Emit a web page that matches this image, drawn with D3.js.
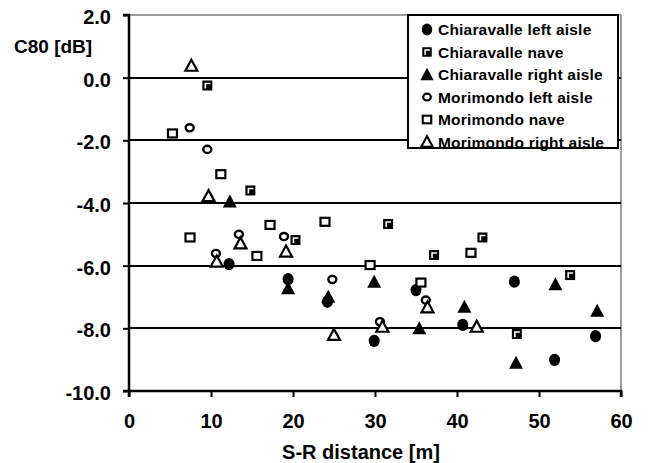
<!DOCTYPE html>
<html>
<head>
<meta charset="utf-8">
<script src="https://cdn.jsdelivr.net/npm/d3@7"></script>
<style>
  html, body { margin: 0; padding: 0; background: #fff; }
  svg { display: block; }
  text { font-family: "Liberation Sans", Arial, sans-serif; font-weight: bold; fill: #000; }
</style>
</head>
<body>
<svg id="chart" width="648" height="463"></svg>
<script>
// ---- data ----
const seriesNames = [
  "Chiaravalle left aisle",
  "Chiaravalle nave",
  "Chiaravalle right aisle",
  "Morimondo left aisle",
  "Morimondo nave",
  "Morimondo right aisle"
];
const chiaravalleLeftX  = [12.2, 19.4, 24.2, 29.9, 35.0, 40.7, 47.0, 51.9, 56.9];
const chiaravalleLeftY  = [-5.95, -6.43, -7.15, -8.4, -6.78, -7.89, -6.51, -9.01, -8.25];
const chiaravalleNaveX  = [9.55, 14.8, 20.3, 31.6, 37.2, 43.1, 47.3, 53.8];
const chiaravalleNaveY  = [-0.25, -3.6, -5.18, -4.67, -5.66, -5.1, -8.18, -6.3];
const chiaravalleRightX = [12.3, 19.4, 24.3, 29.9, 35.4, 40.9, 47.2, 52.0, 57.1];
const chiaravalleRightY = [-3.95, -6.72, -6.99, -6.51, -8.0, -7.31, -9.1, -6.59, -7.44];
const morimondoLeftX    = [7.4, 9.55, 10.6, 13.4, 18.9, 24.8, 30.6, 36.2];
const morimondoLeftY    = [-1.6, -2.29, -5.61, -5.0, -5.07, -6.44, -7.79, -7.1];
const morimondoNaveX    = [5.3, 7.44, 11.2, 15.6, 17.2, 23.9, 29.4, 35.6, 41.7];
const morimondoNaveY    = [-1.78, -5.1, -3.08, -5.69, -4.7, -4.6, -5.98, -6.54, -5.59];
const morimondoRightX   = [7.6, 9.7, 10.7, 13.6, 19.15, 25.0, 30.9, 36.4, 42.4];
const morimondoRightY   = [0.38, -3.78, -5.87, -5.29, -5.55, -8.21, -7.95, -7.33, -7.95];

const xTicks = [0, 10, 20, 30, 40, 50, 60];
const yTicks = [2, 0, -2, -4, -6, -8, -10];
const gridValues = [0, -2, -4, -6, -8];
const xTitle = "S-R distance [m]";
const yTitle = "C80 [dB]";

const series = [
  {name: seriesNames[0], xs: chiaravalleLeftX,  ys: chiaravalleLeftY,  shape: "fcircle"},
  {name: seriesNames[1], xs: chiaravalleNaveX,  ys: chiaravalleNaveY,  shape: "fsquare"},
  {name: seriesNames[2], xs: chiaravalleRightX, ys: chiaravalleRightY, shape: "ftri"},
  {name: seriesNames[3], xs: morimondoLeftX,    ys: morimondoLeftY,    shape: "ocircle"},
  {name: seriesNames[4], xs: morimondoNaveX,    ys: morimondoNaveY,    shape: "osquare"},
  {name: seriesNames[5], xs: morimondoRightX,   ys: morimondoRightY,   shape: "otri"}
];

// ---- layout ----
const svg = d3.select("#chart");
const L = 129, R = 621, T = 15, B = 391;
const x = d3.scaleLinear().domain([0, 60]).range([L, R]);
const y = d3.scaleLinear().domain([-10, 2]).range([B, T]);

// frame (top and right, gray)
svg.append("line").attr("x1", L).attr("x2", R).attr("y1", T).attr("y2", T)
  .attr("stroke", "#9a9a9a").attr("stroke-width", 2);
svg.append("line").attr("x1", R).attr("x2", R).attr("y1", T).attr("y2", B)
  .attr("stroke", "#9a9a9a").attr("stroke-width", 2);

// gridlines
svg.append("g").selectAll("line").data(gridValues).join("line")
  .attr("x1", L).attr("x2", R)
  .attr("y1", d => Math.round(y(d))).attr("y2", d => Math.round(y(d)))
  .attr("stroke", "#000").attr("stroke-width", 2);

// axes
const yAxis = d3.axisLeft(y).tickValues(yTicks).tickSize(6).tickPadding(12)
  .tickFormat(d => d.toFixed(1));
const gy = svg.append("g").attr("transform", `translate(${L},0)`).call(yAxis);
const xAxis = d3.axisBottom(x).tickValues(xTicks).tickSize(6).tickPadding(17)
  .tickFormat(d => String(d));
const gx = svg.append("g").attr("transform", `translate(0,${B})`).call(xAxis);

[gx, gy].forEach(g => {
  g.select(".domain").attr("stroke", "#000").attr("stroke-width", 2.5);
  g.selectAll(".tick line").attr("stroke", "#000").attr("stroke-width", 2);
  g.selectAll(".tick text").style("font-family", '"Liberation Sans", Arial, sans-serif')
    .style("font-weight", "bold").style("font-size", "20px").attr("fill", "#000");
});
gy.select(".domain").attr("d", `M-6,${B}H0V${T}H-6`);
gx.select(".domain").attr("d", `M${L},6V0H${R}V6`);
gy.selectAll(".tick text").attr("dy", "0.42em");

// titles
svg.append("text").attr("x", 361).attr("y", 459).attr("text-anchor", "middle")
  .style("font-size", "20px").text(xTitle);
svg.append("text").attr("x", 14).attr("y", 53)
  .style("font-size", "19px").text(yTitle);

// ---- markers ----
function drawMarker(g, shape, s) {
  s = s || 1;
  if (shape === "fcircle") {
    g.append("ellipse").attr("rx", 5.5 * s).attr("ry", 6.2 * s).attr("fill", "#000");
  } else if (shape === "fsquare") {
    g.append("rect").attr("x", -5 * s).attr("y", -5 * s).attr("width", 10 * s).attr("height", 10 * s)
      .attr("fill", "#000");
    g.append("path").attr("d", `M${-2 * s},${3 * s}V${-2 * s}H${3 * s}`)
      .attr("fill", "none").attr("stroke", "#fff").attr("stroke-width", 1.6 * s);
  } else if (shape === "ftri") {
    g.append("path").attr("d", `M0,${-7 * s}L${7 * s},${6 * s}L${-7 * s},${6 * s}Z`).attr("fill", "#000");
  } else if (shape === "ocircle") {
    g.append("ellipse").attr("rx", 4 * s).attr("ry", 3.6 * s)
      .attr("fill", "#fff").attr("stroke", "#000").attr("stroke-width", 2.4 * s);
  } else if (shape === "osquare") {
    g.append("rect").attr("x", -4.5 * s).attr("y", -4 * s).attr("width", 9 * s).attr("height", 8 * s)
      .attr("fill", "#fff").attr("stroke", "#000").attr("stroke-width", 2.2 * s);
  } else if (shape === "otri") {
    g.append("path").attr("d", `M0,${-6 * s}L${6 * s},${5 * s}L${-6 * s},${5 * s}Z`)
      .attr("fill", "#fff").attr("stroke", "#000").attr("stroke-width", 2.2 * s).attr("stroke-linejoin", "miter");
  }
}

const plot = svg.append("g");
series.forEach(sr => {
  const pts = sr.xs.map((v, i) => [v, sr.ys[i]]);
  plot.append("g").selectAll("g").data(pts).join("g")
    .attr("transform", d => `translate(${x(d[0])},${y(d[1])})`)
    .each(function () { drawMarker(d3.select(this), sr.shape, 1); });
});

// ---- legend ----
const leg = svg.append("g");
leg.append("rect").attr("x", 408).attr("y", 15).attr("width", 210).attr("height", 133)
  .attr("fill", "#fff").attr("stroke", "#000").attr("stroke-width", 2);
series.forEach((sr, i) => {
  const cy = 29.5 + i * 22.5;
  const mg = leg.append("g").attr("transform", `translate(427,${cy})`);
  drawMarker(mg, sr.shape, 0.95);
  leg.append("text").attr("x", 438).attr("y", cy + 5.5)
    .style("font-size", "15.5px").style("letter-spacing", "0.2px").text(sr.name);
});
</script>
</body>
</html>
